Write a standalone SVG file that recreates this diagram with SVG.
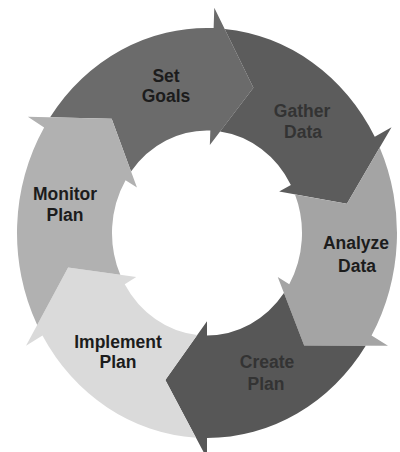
<svg xmlns="http://www.w3.org/2000/svg" width="400" height="452" viewBox="0 0 400 452">
  <style>
    .seg { stroke: none; }
    .lbl { font-family: "Liberation Sans", Arial, sans-serif; font-weight: bold; font-size: 17.5px; text-anchor: middle; }
    .on-light { fill: #1c1c1c; }
    .on-dark { fill: #333333; }
  </style>
  <rect width="400" height="452" fill="#ffffff"/>

  <!-- Six curved arrows around an elliptical ring; each path is drawn on a unit ring
       (outer r=100, inner r=50) and stretched into place. Tails are notched to fit
       the head of the preceding arrow. -->
  <g id="set-goals">
    <path class="seg" fill="#6b6b6b" transform="translate(207 233) scale(1.9 2.05)"
      d="M-82.57,-56.41 A100,100 0 0 1 3.49,-99.94 L3.84,-109.93 L24.42,-70.91 L1.50,-42.97 L1.75,-49.97 A50,50 0 0 0 -39.99,-30.02 L-50.18,-55.73 Z"/>
    <text class="lbl on-light" x="166" y="82">Set</text>
    <text class="lbl on-light" x="166" y="102">Goals</text>
  </g>

  <g id="gather-data">
    <path class="seg" fill="#5c5c5c" transform="translate(207 233) scale(1.9 2.05)"
      d="M9.31,-99.57 A100,100 0 0 1 88.30,-46.95 L97.12,-51.64 L73.62,-14.31 L37.97,-20.19 L44.15,-23.47 A50,50 0 0 0 6.87,-49.53 L24.42,-70.91 Z"/>
    <text class="lbl on-dark" x="302" y="117">Gather</text>
    <text class="lbl on-dark" x="303" y="138">Data</text>
  </g>

  <g id="analyze-data">
    <path class="seg" fill="#a4a4a4" transform="translate(207 233) scale(1.9 2.05)"
      d="M90.88,-41.72 A100,100 0 0 1 86.60,50.00 L95.26,55.00 L51.15,54.85 L37.24,21.50 L43.30,25.00 A50,50 0 0 0 46.33,-18.81 L73.62,-14.31 Z"/>
    <text class="lbl on-light" x="356" y="249">Analyze</text>
    <text class="lbl on-light" x="357" y="272">Data</text>
  </g>

  <g id="create-plan">
    <path class="seg" fill="#575757" transform="translate(207 233) scale(1.9 2.05)"
      d="M83.55,54.95 A100,100 0 0 1 0,100 L0,110 L-21.93,71.72 L0,43 L0,50 A50,50 0 0 0 40.50,29.32 L51.15,54.85 Z"/>
    <text class="lbl on-dark" x="267" y="368">Create</text>
    <text class="lbl on-dark" x="266" y="390">Plan</text>
  </g>

  <g id="implement-plan">
    <path class="seg" fill="#dadada" transform="translate(207 233) scale(1.9 2.05)"
      d="M-5.83,99.83 A100,100 0 0 1 -86.60,50.00 L-95.26,55.00 L-73.08,16.87 L-37.24,21.50 L-43.30,25.00 A50,50 0 0 0 -5.14,49.74 L-21.93,71.72 Z"/>
    <text class="lbl on-light" x="118" y="348">Implement</text>
    <text class="lbl on-light" x="118" y="368">Plan</text>
  </g>

  <g id="monitor-plan">
    <path class="seg" fill="#b1b1b1" transform="translate(207 233) scale(1.9 2.05)"
      d="M-89.37,44.87 A100,100 0 0 1 -85.72,-51.50 L-94.29,-56.65 L-50.18,-55.74 L-36.86,-22.15 L-42.86,-25.75 A50,50 0 0 0 -45.64,20.42 L-73.08,16.87 Z"/>
    <text class="lbl on-light" x="65" y="200">Monitor</text>
    <text class="lbl on-light" x="65" y="221">Plan</text>
  </g>
</svg>
